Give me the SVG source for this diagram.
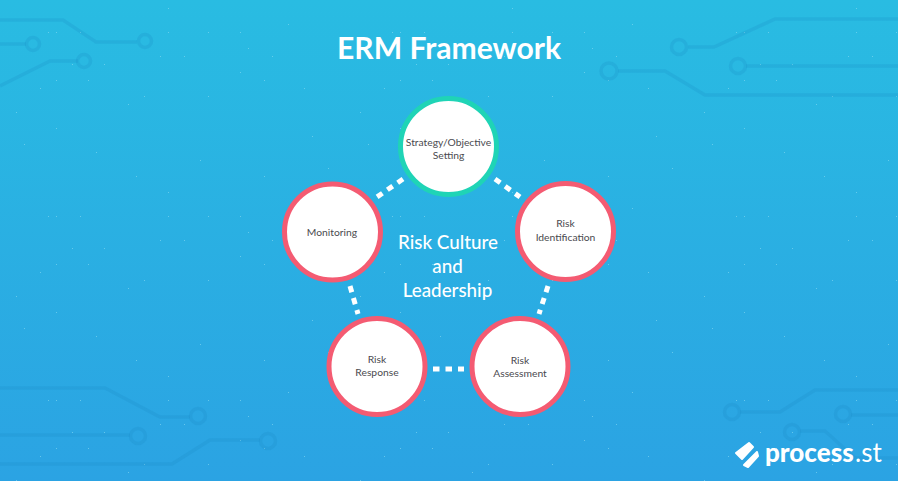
<svg xmlns="http://www.w3.org/2000/svg" width="898" height="481" viewBox="0 0 898 481">
<style>
.c{fill:none;stroke:#1a86c4;stroke-opacity:.2;stroke-width:3.5}
.n{fill:#fff;stroke-width:5}
.p{stroke:#f45b72}
.g{stroke:#1fd4b6}
.l{font-family:"Lato","Liberation Sans",sans-serif;font-size:10.300px;fill:#4a4a4f;text-anchor:middle}
.w{font-family:"Lato","Liberation Sans",sans-serif;fill:#fff;text-anchor:middle}
.d{fill:none;stroke:#fff;stroke-width:5;stroke-dasharray:6.5 6}
.b{font-family:"Lato","Liberation Sans",sans-serif;font-size:26px;fill:#fff}
</style>
<defs>
<linearGradient id="bg" x1="0" y1="0" x2="0" y2="1"><stop offset="0" stop-color="#29bce2"/><stop offset="1" stop-color="#2ba3e3"/></linearGradient>
<pattern id="dots" width="344" height="184" patternUnits="userSpaceOnUse">
<path fill="none" stroke="#8adcf3" stroke-opacity=".6" stroke-width="1" d="M168 8.500h1M288 24.500h1M48 32.500h1M56 32.500h1M80 32.500h1M168 32.500h1M208 32.500h1M240 32.500h1M248 48.500h1M160 56.500h1M184 56.500h1M272 56.500h1M72 64.500h1M104 64.500h1M240 72.500h1M56 80.500h1M88 80.500h1M264 80.500h1M40 88.500h1M144 96.500h1M208 96.500h1M128 104.500h1M16 112.500h1M56 128.500h1M312 136.500h1M24 144.500h1M96 152.500h1M200 160.500h1M328 168.500h1M136 176.500h1M264 176.500h1M304 88.500h1"/>
</pattern>
</defs>
<rect width="898" height="481" fill="url(#bg)"/>
<rect width="898" height="481" fill="url(#dots)"/>
<g id="circuits">
<path class="c" d="M0 20H63L96 42H137"/><circle class="c" cx="145" cy="41" r="6.500"/>
<path class="c" d="M0 44H26"/><circle class="c" cx="33" cy="44" r="6.500"/>
<path class="c" d="M0 86L50 61H78"/><circle class="c" cx="84" cy="61" r="6.500"/>
<path class="c" d="M898 19H775L714 47H688"/><circle class="c" cx="679" cy="47" r="7.500"/>
<path class="c" d="M746 66H898"/><circle class="c" cx="738" cy="66" r="7.500"/>
<path class="c" d="M618 71H665L705 95H898"/><circle class="c" cx="609" cy="71" r="8"/>
<path class="c" d="M0 388H105L160 417H190"/><circle class="c" cx="198" cy="416" r="7.500"/>
<path class="c" d="M0 435H130"/><circle class="c" cx="138" cy="436" r="7.500"/>
<path class="c" d="M0 464H172L210 440H260"/><circle class="c" cx="268" cy="441" r="7.500"/>
<path class="c" d="M740 412H780L815 390H898"/><circle class="c" cx="732" cy="412" r="7.500"/>
<path class="c" d="M851 415H898"/><circle class="c" cx="843" cy="414" r="7.500"/>
<path class="c" d="M800 431H825L855 458H898"/><circle class="c" cx="792" cy="432" r="7.500"/>
</g>
<text class="w" x="449" y="59" font-size="30" font-weight="700" textLength="224" lengthAdjust="spacingAndGlyphs">ERM Framework</text>
<g id="connectors">
<path class="d" d="M403 179L377 197"/>
<path class="d" d="M495 179L520 197"/>
<path class="d" d="M350 286L358 314"/>
<path class="d" d="M548 286L539 314"/>
<path class="d" d="M433 369H464"/>
</g>
<g id="strategy"><circle class="n g" cx="448.500" cy="146.500" r="48"/><text class="l" x="448.500" y="146">Strategy/Objective</text><text class="l" x="448.500" y="158.500">Setting</text></g>
<g id="identification"><circle class="n p" cx="565.500" cy="231.500" r="48"/><text class="l" x="565.500" y="227">Risk</text><text class="l" x="565.500" y="240.500">Identification</text></g>
<g id="assessment"><circle class="n p" cx="520" cy="366.500" r="48"/><text class="l" x="520" y="363.500">Risk</text><text class="l" x="520" y="376.500">Assessment</text></g>
<g id="response"><circle class="n p" cx="377" cy="366.500" r="48"/><text class="l" x="377" y="362.500">Risk</text><text class="l" x="377" y="376">Response</text></g>
<g id="monitoring"><circle class="n p" cx="332.500" cy="232" r="48"/><text class="l" x="332" y="236">Monitoring</text></g>
<g id="centre" font-size="18.800" font-weight="500">
<text class="w" x="448" y="249">Risk Culture</text>
<text class="w" x="447.500" y="272.500">and</text>
<text class="w" x="447.500" y="296.500">Leadership</text>
</g>
<g id="logo">
<path fill="#fff" stroke="#fff" stroke-width="2" stroke-linejoin="round" d="M736 453L749 443L753 447L742 459Z"/>
<path fill="#fff" stroke="#fff" stroke-width="2" stroke-linejoin="round" d="M757 452L744 465L748 467L758 456Z"/>
<text class="b" x="765" y="462" font-weight="900">process</text>
<text class="b" x="855" y="462" font-weight="400">.st</text>
</g>
</svg>
